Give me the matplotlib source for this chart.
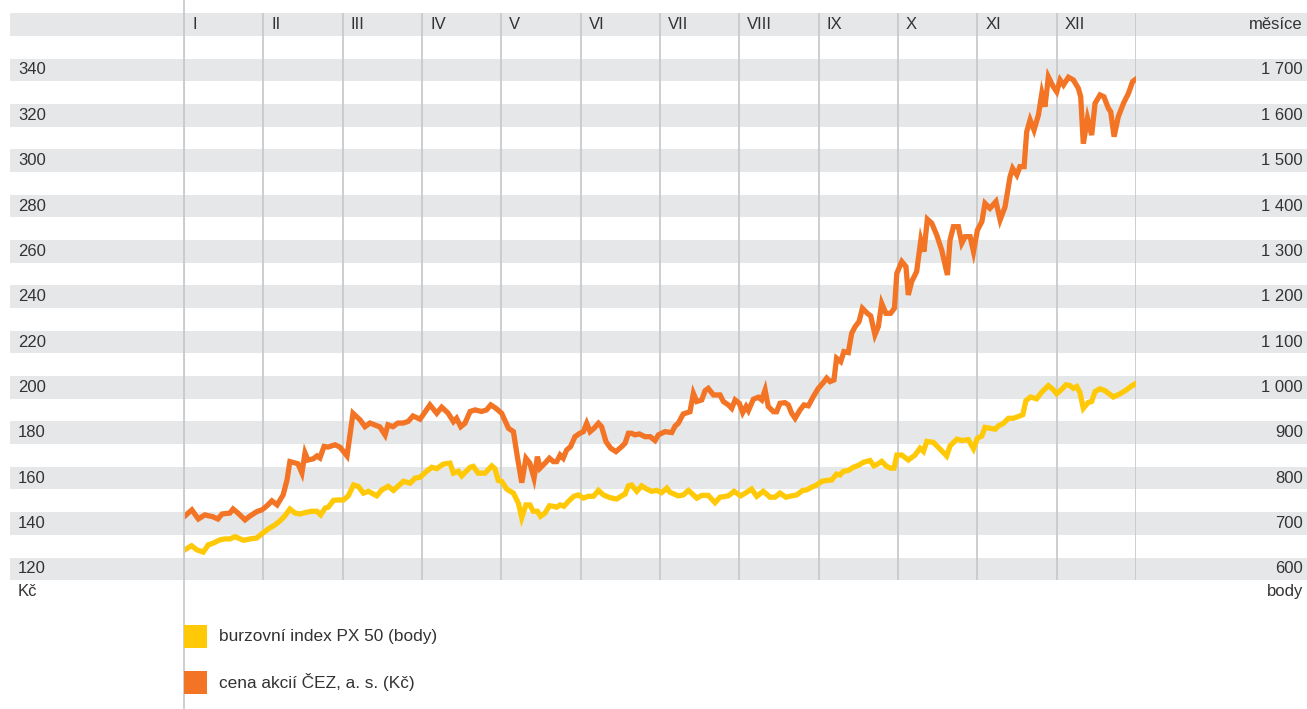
import matplotlib
matplotlib.use("Agg")
import matplotlib.pyplot as plt
from matplotlib.patches import Rectangle
from matplotlib.lines import Line2D

plt.rcParams['font.family'] = ['Liberation Sans', 'DejaVu Sans']

# --- data -------------------------------------------------------------
months = ['I', 'II', 'III', 'IV', 'V', 'VI', 'VII', 'VIII', 'IX', 'X', 'XI', 'XII']
kc_ticks = [120, 140, 160, 180, 200, 220, 240, 260, 280, 300, 320, 340]
px_labels = ['600', '700', '800', '900', '1 000', '1 100', '1 200',
             '1 300', '1 400', '1 500', '1 600', '1 700']

# ČEZ share price (Kč), by day of year
cez_day = [0, 3, 5.5, 8, 11, 13, 14.6, 17.6, 18.8, 20.7, 23.4, 25.3, 28, 29.9, 31.8,
           33.7, 35.7, 38, 39.5, 40.6, 42.6, 43.7, 45.2, 46.4, 47.5, 49.5, 51, 52.1,
           53.7, 55.2, 57.9, 59.8, 62.5, 64.8, 67.5, 69.4, 71.3, 75.1, 77.1, 78.2,
           80.1, 82, 84, 85.9, 87.8, 90.5, 94.3, 96.9, 98.8, 101.3, 103.3, 104.5,
           106.1, 107.7, 109.7, 111.6, 114.1, 116, 117.6, 119.6, 121.8, 124.4, 126.3,
           127.8, 129.5, 131.1, 132.6, 134.2, 135.5, 136.5, 138.4, 140.1, 141.6,
           142.9, 144.2, 145.4, 146.7, 148.2, 149.9, 151.8, 153.1, 154.4, 155.7,
           157.2, 158.9, 160.1, 161.8, 163.6, 165.6, 167.8, 169.1, 170.4, 171.6,
           172.9, 174.6, 176.7, 178.7, 180.6, 181.9, 184.4, 187, 188.3, 189.5, 191.4,
           194, 195.3, 196.6, 198.5, 199.8, 201, 203, 205.5, 206.8, 208.7, 210, 211.3,
           212.9, 214.2, 215.5, 216.4, 218.3, 220.2, 221.5, 222.8, 224, 226, 227.2,
           228.5, 230.4, 231.7, 233, 234.3, 236.2, 237.7, 239.4, 241.3, 243.2, 245.1,
           246.4, 247.7, 249.2, 250.2, 251.8, 253, 254.7, 256, 257.3, 258.8, 260.1,
           262, 263.3, 264.9, 266.2, 267.5, 269.1, 270.9, 272.4, 273.3, 275.2, 276.8,
           277.7, 279, 280.9, 282.5, 283.7, 285, 286.7, 288.6, 290.5, 292.7, 293.7,
           295, 296.9, 298.2, 299.5, 301.4, 302.7, 304.2, 305.9, 307.1, 309, 311.3,
           312.9, 314.8, 316.7, 317.7, 319.3, 320.5, 322.1, 323.1, 324.4, 325.9,
           327.6, 328.9, 330.1, 331.4, 333.3, 334.6, 335.9, 337.2, 339.1, 341, 342.9,
           343.8, 344.8, 346.4, 348, 349.3, 351.2, 352.7, 354.4, 355.3, 356.6, 358.2,
           360.2, 362.1, 363.7, 365]
cez_kc = [143, 146, 142, 143.8, 143, 142, 144.2, 144.6, 146.4, 144.6, 141.6, 143.3,
          145.3, 146, 147.8, 150, 148.2, 152.6, 159.2, 167.3, 166.7, 166.3, 162.3,
          171.1, 168, 168.5, 169.8, 168.9, 174, 173.7, 174.7, 173.7, 169.8, 188.6,
          185.7, 182.7, 184.3, 182.6, 179, 183.5, 182.7, 184.3, 184.3, 185, 187.4,
          186, 192.3, 188.6, 191.3, 188.6, 184.9, 186.4, 182.7, 184.2, 189.4, 190.1,
          189.4, 190.1, 192.3, 190.8, 188.6, 182, 180.5, 169.5, 158, 168.8, 166.6,
          160, 169.5, 164.4, 166.6, 168.8, 167.3, 167.3, 170.2, 168.8, 172.4, 173.9,
          178.3, 179.8, 180.5, 184.2, 180.5, 182, 184.2, 182.7, 176.1, 173.2, 171.7,
          173.9, 175.4, 179.8, 179.8, 179.1, 179.5, 178.3, 178.3, 176.6, 179.1, 180.5,
          180.1, 183, 184.2, 188.3, 189.3, 197.4, 193.8, 194.5, 198.6, 199.6, 196.7,
          196.7, 193.8, 192.3, 190.8, 194.5, 193, 188.9, 191.6, 189.8, 194.8, 195.7,
          194.5, 198.9, 191.6, 189.3, 189.3, 193, 193.3, 192.3, 188.6, 186.4, 190.1,
          192.3, 191.9, 196, 199.6, 202.1, 204.1, 202.6, 203.3, 212.9, 211.4, 215.8,
          215.4, 223.9, 226.8, 229, 234.9, 232.7, 231.5, 223.2, 226.8, 237.1, 232.7,
          232.7, 235, 250.3, 255.5, 253.3, 240.8, 246.7, 251.1, 265, 259.9, 274.2,
          272.4, 267.2, 260.6, 249.6, 265, 270.9, 270.9, 263.6, 266.5, 266.5, 259.9,
          269.4, 273.1, 281.2, 279, 282, 273.9, 279.7, 292.9, 296.6, 293.7, 297.4,
          297.4, 312.8, 318, 313.5, 320.2, 329.7, 323.8, 337, 332.6, 330.4, 335.6,
          333.4, 336.8, 335.6, 331.9, 328.2, 307.5, 318.7, 311.3, 325.3, 329, 328.2,
          323.1, 321.6, 310.6, 319.4, 325.3, 329.7, 334.9, 336]

# PX 50 index (points), by day of year
px_day = [0, 2.9, 4.9, 7.4, 9.3, 11.3, 13.8, 15.7, 17.6, 19.6, 22.8, 25.3, 27.9, 29.8,
          32.3, 34.9, 36.8, 38.7, 40.6, 42.6, 44.5, 46.4, 49, 50.9, 52.4, 54.1, 55.3,
          57.3, 59.2, 61.1, 63, 65, 66.8, 68.8, 70.7, 73.9, 75.8, 78.3, 80.3, 82.2,
          84.1, 86.7, 88.6, 90.5, 93, 95, 96.9, 99.4, 102, 103.3, 105.2, 106.5, 109.7,
          110.9, 112.8, 115.4, 118, 119.2, 120.5, 121.8, 123.7, 126.3, 128.2, 129.5,
          131.1, 132.6, 133.9, 135.5, 136.7, 138.4, 140.1, 141.6, 142.9, 144.2, 145.7,
          147.4, 149.5, 151.2, 153.1, 155, 157, 158.9, 160.8, 163.3, 165.9, 167.8,
          169.1, 170.4, 171.6, 173.6, 175.5, 177.4, 179.3, 181.2, 183.1, 185.1, 186.3,
          189.5, 191.4, 193.4, 196.6, 198.5, 201, 203.6, 205.5, 208.7, 210.9, 213.4,
          215.5, 217.6, 219.6, 222.1, 224.7, 226.6, 228.5, 230.8, 233, 234.9, 237.2,
          238.7, 240.6, 242.6, 244.5, 246.4, 248.3, 250.2, 251.5, 252.8, 254.7, 256.6,
          258.5, 260.5, 263, 264.5, 266.2, 267.5, 269.4, 270.9, 272.2, 273.3, 275.2,
          277.7, 280.3, 282.2, 283.5, 284.8, 287.3, 289.9, 292.4, 293.7, 296.3, 298.2,
          300.7, 302.7, 304.2, 305.9, 307.1, 309, 311, 312.2, 314.2, 316.1, 318, 319.9,
          321.6, 322.8, 324.6, 326.9, 328.9, 331.4, 333.3, 334.6, 336.5, 338.2, 339.7,
          341, 342.3, 343.5, 344.8, 346.7, 348, 349.3, 351.2, 353.1, 356.3, 358.9,
          361.4, 363, 365]
px_pts = [641, 651, 642, 637, 653, 657, 664, 666, 666, 671, 663, 666, 668, 677, 688,
          697, 706, 717, 732, 723, 721, 724, 727, 727, 719, 734, 736, 751, 752, 752,
          761, 785, 782, 767, 771, 761, 774, 782, 773, 783, 793, 789, 800, 802, 815,
          824, 821, 831, 833, 811, 815, 805, 824, 826, 811, 811, 827, 821, 795, 793,
          776, 767, 745, 713, 741, 741, 727, 727, 716, 723, 739, 738, 736, 741, 738,
          749, 760, 763, 756, 760, 760, 773, 763, 757, 754, 761, 765, 783, 785, 771,
          783, 776, 771, 773, 768, 778, 769, 761, 763, 773, 756, 762, 762, 746, 758,
          761, 771, 761, 768, 776, 760, 771, 758, 758, 767, 758, 761, 763, 773, 774,
          780, 785, 793, 795, 796, 809, 807, 815, 817, 824, 828, 835, 839, 827, 832,
          837, 826, 822, 822, 851, 851, 840, 851, 866, 859, 881, 879, 864, 849, 871,
          886, 883, 885, 865, 888, 893, 912, 910, 908, 915, 921, 932, 932, 936, 940,
          971, 979, 975, 990, 1004, 995, 986, 996, 1006, 1004, 998, 1002, 989, 954,
          967, 969, 991, 997, 993, 979, 986, 995, 1002, 1009]

ORANGE = '#f27424'
YELLOW = '#ffc907'
BAND = '#e6e7e8'
GRID = '#c9cacc'
TEXT = '#333333'

# --- figure -----------------------------------------------------------
W, H = 1307, 709
fig = plt.figure(figsize=(W / 100, H / 100), dpi=100)
left, right, top, bottom = 184, 1136, 13.3, 580.2
ax = fig.add_axes([left / W, 1 - bottom / H, (right - left) / W, (bottom - top) / H])
ax.set_xlim(0, 365)
ax.set_ylim(115, 365)
ax.axis('off')

# gray bands spanning the full width
x0 = (10 - left) / (right - left)
x1 = (W - left) / (right - left)
for v in kc_ticks + [360]:
    ax.add_patch(Rectangle((x0, v - 5), x1 - x0, 10, transform=ax.get_yaxis_transform(),
                           facecolor=BAND, edgecolor='none', clip_on=False, zorder=0))

# month dividers and labels
for i, m in enumerate(months):
    xm = i * 365 / 12
    ax.axvline(xm, color=GRID, lw=1.3, zorder=1)
    ax.annotate(m, xy=(xm, 360), xytext=(8, 0), textcoords='offset pixels',
                va='center', ha='left', fontsize=12, color=TEXT)
ax.axvline(365, color=GRID, lw=1.3, zorder=1)
fig.add_artist(Line2D([left / W, left / W], [0, 1], color=GRID, lw=1.3, zorder=1))

# axis labels as text on both sides
xl = (18 - left) / (right - left)
xr = (1303 - left) / (right - left)
for v, lab in zip(kc_ticks, px_labels):
    ax.text(xl, v, str(v), transform=ax.get_yaxis_transform(), ha='left', va='center',
            fontsize=12, color=TEXT)
    ax.text(xr, v, lab, transform=ax.get_yaxis_transform(), ha='right', va='center',
            fontsize=12, color=TEXT)
ax.text(xr, 360, 'měsíce', transform=ax.get_yaxis_transform(), ha='right', va='center',
        fontsize=12, color=TEXT)
ax.text(xl, 109.8, 'Kč', transform=ax.get_yaxis_transform(), ha='left', va='center',
        fontsize=12, color=TEXT)
ax.text(xr, 109.8, 'body', transform=ax.get_yaxis_transform(), ha='right', va='center',
        fontsize=12, color=TEXT)

# series
ax.plot(cez_day, cez_kc, color=ORANGE, lw=3.8, solid_joinstyle='miter', zorder=3)
ax2 = ax.twinx()
ax2.set_ylim(575, 1825)
ax2.axis('off')
ax2.plot(px_day, px_pts, color=YELLOW, lw=3.8, solid_joinstyle='miter', zorder=3)

# legend
for yc, col, lab in [(636, YELLOW, 'burzovní index PX 50 (body)'),
                     (682, ORANGE, 'cena akcií ČEZ, a. s. (Kč)')]:
    fig.add_artist(Rectangle((184 / W, 1 - (yc + 11.5) / H), 23 / W, 23 / H,
                             transform=fig.transFigure, facecolor=col, edgecolor='none'))
    fig.text(219 / W, 1 - yc / H, lab, ha='left', va='center', fontsize=12.4, color=TEXT)

fig.savefig('out.png', dpi=100)
